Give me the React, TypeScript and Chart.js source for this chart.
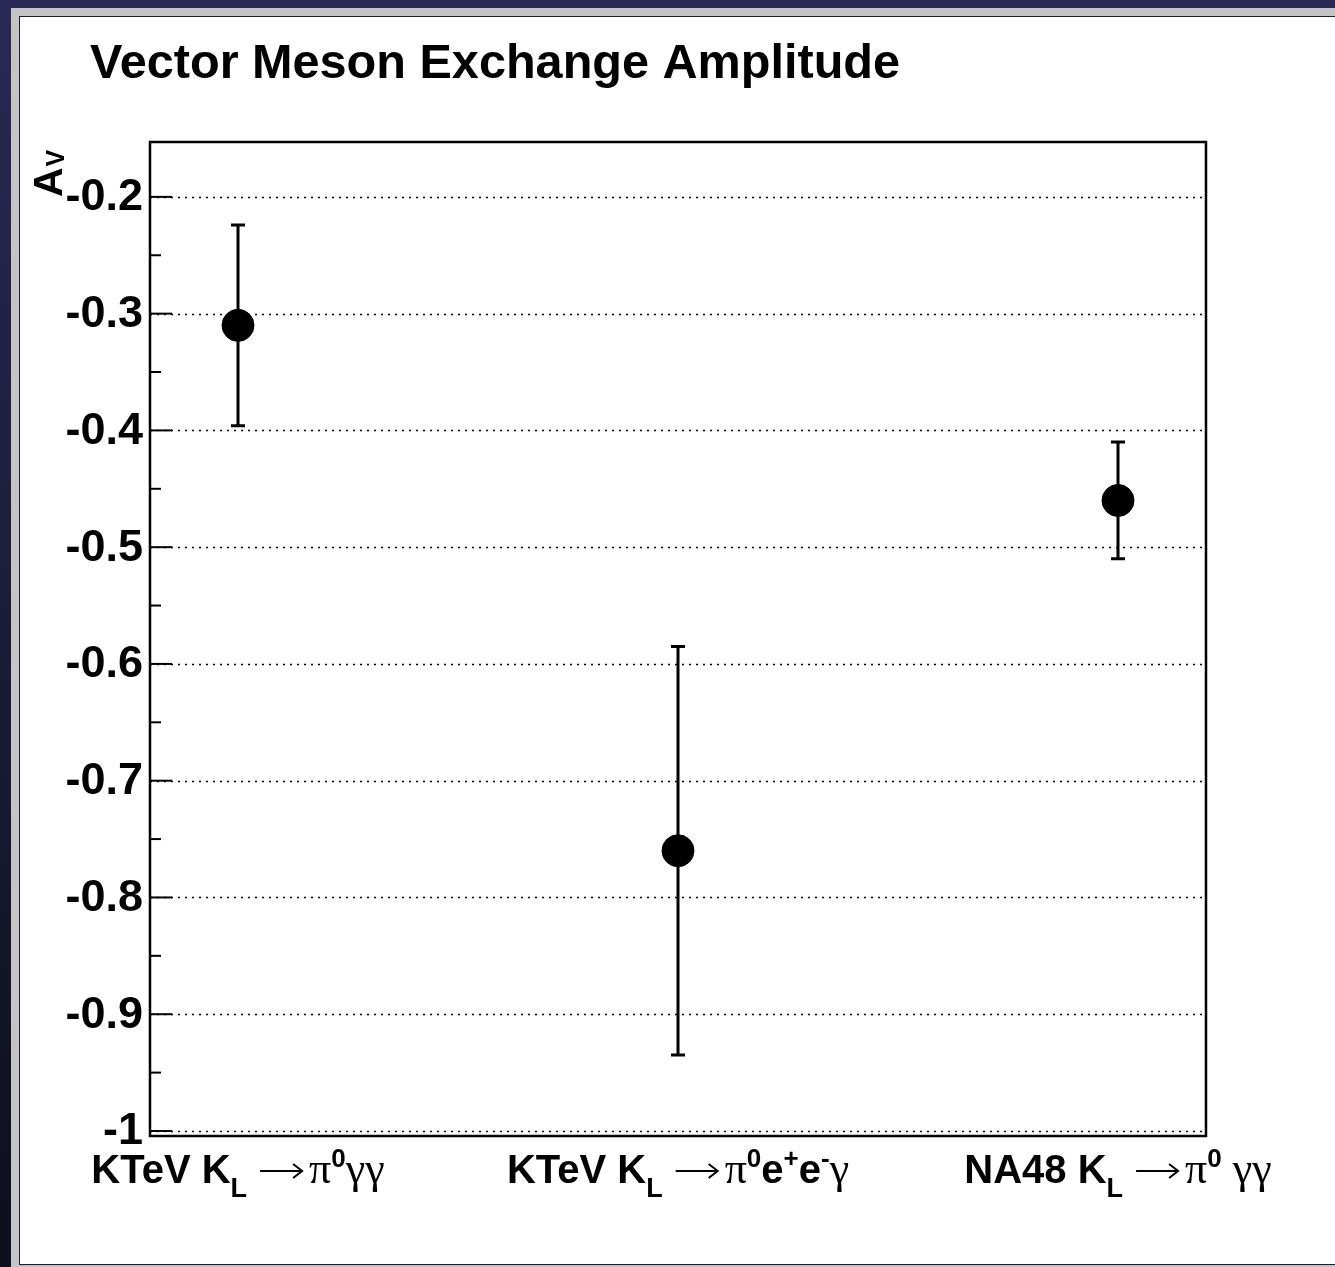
import React, { useEffect, useRef } from "react";
import { Chart, registerables } from "chart.js";
Chart.register(...registerables);

const chartTitle = "Vector Meson Exchange Amplitude";
const xPositions = [1, 2, 3];
const avValues = [-0.31, -0.76, -0.46];
const avErrors = [0.086, 0.175, 0.05];
const yTickValues = [-1, -0.9, -0.8, -0.7, -0.6, -0.5, -0.4, -0.3, -0.2];
const yTickLabels = ["-1", "-0.9", "-0.8", "-0.7", "-0.6", "-0.5", "-0.4", "-0.3", "-0.2"];
const yMinorTicks = [-0.95, -0.85, -0.75, -0.65, -0.55, -0.45, -0.35, -0.25];
const yRange = [-1.0043, -0.153];
const xRange = [0.8, 3.2];

type Seg = { t: string; k: "b" | "sub" | "sup" | "sym" | "arrow" };
const categoryLabels: Seg[][] = [
  [
    { t: "KTeV K", k: "b" }, { t: "L", k: "sub" }, { t: "\u2192", k: "arrow" },
    { t: "\u03c0", k: "sym" }, { t: "0", k: "sup" }, { t: "\u03b3\u03b3", k: "sym" },
  ],
  [
    { t: "KTeV K", k: "b" }, { t: "L", k: "sub" }, { t: "\u2192", k: "arrow" },
    { t: "\u03c0", k: "sym" }, { t: "0", k: "sup" }, { t: "e", k: "b" }, { t: "+", k: "sup" },
    { t: "e", k: "b" }, { t: "-", k: "sup" }, { t: "\u03b3", k: "sym" },
  ],
  [
    { t: "NA48 K", k: "b" }, { t: "L", k: "sub" }, { t: "\u2192", k: "arrow" },
    { t: "\u03c0", k: "sym" }, { t: "0", k: "sup" }, { t: " \u03b3\u03b3", k: "sym" },
  ],
];

const SANS = "'Liberation Sans', Arial, Helvetica, sans-serif";
const SERIF = "'Liberation Serif', 'Times New Roman', serif";
const segFont: Record<string, string> = {
  b: `bold 40px ${SANS}`,
  sub: `bold 27px ${SANS}`,
  sup: `bold 26px ${SANS}`,
  sym: `44px ${SERIF}`,
  arrow: `44px ${SERIF}`,
};
const segDy: Record<string, number> = { b: 0, sub: 14, sup: -16, sym: 0, arrow: 0 };
const ARROW_W = 42;
const ARROW_GAP_L = 13;
const ARROW_GAP_R = 7;

const decorPlugin = {
  id: "decor",
  beforeDatasetsDraw(chart: any) {
    const ctx = chart.ctx;
    const { left, right } = chart.chartArea;
    const ys = chart.scales.y;
    const xs = chart.scales.x;
    ctx.save();
    // dotted grid
    ctx.strokeStyle = "#000";
    ctx.lineWidth = 1.5;
    ctx.setLineDash([2, 5]);
    yTickValues.forEach((v) => {
      const y = Math.round(ys.getPixelForValue(v)) + 0.5;
      ctx.beginPath();
      ctx.moveTo(left, y);
      ctx.lineTo(right, y);
      ctx.stroke();
    });
    ctx.setLineDash([]);
    // error bars
    ctx.lineWidth = 3;
    avValues.forEach((v, i) => {
      const x = xs.getPixelForValue(xPositions[i]);
      const y1 = ys.getPixelForValue(v + avErrors[i]);
      const y2 = ys.getPixelForValue(v - avErrors[i]);
      ctx.beginPath();
      ctx.moveTo(x, y1);
      ctx.lineTo(x, y2);
      ctx.moveTo(x - 7, y1);
      ctx.lineTo(x + 7, y1);
      ctx.moveTo(x - 7, y2);
      ctx.lineTo(x + 7, y2);
      ctx.stroke();
    });
    ctx.restore();
  },
  afterDraw(chart: any) {
    const ctx = chart.ctx;
    const { left, right, top, bottom } = chart.chartArea;
    const ys = chart.scales.y;
    const xs = chart.scales.x;
    ctx.save();
    // frame
    ctx.strokeStyle = "#000";
    ctx.lineWidth = 2.5;
    ctx.strokeRect(left, top, right - left, bottom - top);
    // ticks
    ctx.lineWidth = 2;
    yTickValues.forEach((v) => {
      const y = ys.getPixelForValue(v);
      ctx.beginPath();
      ctx.moveTo(left, y);
      ctx.lineTo(left + 22, y);
      ctx.stroke();
    });
    yMinorTicks.forEach((v) => {
      const y = ys.getPixelForValue(v);
      ctx.beginPath();
      ctx.moveTo(left, y);
      ctx.lineTo(left + 11, y);
      ctx.stroke();
    });
    // tick labels
    ctx.fillStyle = "#000";
    ctx.font = `bold 45px ${SANS}`;
    ctx.textAlign = "right";
    ctx.textBaseline = "middle";
    yTickValues.forEach((v, i) => {
      ctx.fillText(yTickLabels[i], left - 7, ys.getPixelForValue(v) + 1);
    });
    // title
    ctx.textAlign = "left";
    ctx.textBaseline = "alphabetic";
    ctx.font = `bold 48.6px ${SANS}`;
    ctx.fillText(chartTitle, 90, 78);
    // y axis title A_V
    ctx.save();
    ctx.translate(62, 197);
    ctx.rotate(-Math.PI / 2);
    ctx.font = `bold 41px ${SANS}`;
    ctx.fillText("A", 0, 0);
    const aw = ctx.measureText("A").width;
    ctx.font = `bold 25px ${SANS}`;
    ctx.fillText("V", aw + 1, 2);
    ctx.restore();
    // category labels
    const segWidth = (s: Seg) => {
      if (s.k === "arrow") return ARROW_GAP_L + ARROW_W + ARROW_GAP_R;
      ctx.font = segFont[s.k];
      return ctx.measureText(s.t).width;
    };
    ctx.lineWidth = 2;
    categoryLabels.forEach((segs, i) => {
      let total = 0;
      segs.forEach((s) => { total += segWidth(s); });
      let x = xs.getPixelForValue(xPositions[i]) - total / 2;
      const base = 1183;
      segs.forEach((s) => {
        ctx.font = segFont[s.k];
        if (s.k === "arrow") {
          const ay = base - 12;
          const ax0 = x + ARROW_GAP_L;
          const ax1 = ax0 + ARROW_W;
          ctx.beginPath();
          ctx.moveTo(ax0, ay);
          ctx.lineTo(ax1, ay);
          ctx.moveTo(ax1 - 9, ay - 7);
          ctx.lineTo(ax1, ay);
          ctx.lineTo(ax1 - 9, ay + 7);
          ctx.stroke();
        } else {
          ctx.fillText(s.t, x, base + segDy[s.k]);
        }
        x += segWidth(s);
      });
    });
    ctx.restore();
  },
};

export default function App() {
  const ref = useRef<HTMLCanvasElement>(null);
  useEffect(() => {
    if (!ref.current) return;
    const chart = new Chart(ref.current, {
      type: "scatter",
      data: {
        datasets: [
          {
            label: "A_V",
            data: xPositions.map((x, i) => ({ x, y: avValues[i] })),
            backgroundColor: "#000",
            borderColor: "#000",
            pointRadius: 16,
            pointHoverRadius: 16,
          },
        ],
      },
      options: {
        responsive: false,
        animation: false,
        devicePixelRatio: 1,
        layout: { padding: { left: 150, right: 129, top: 142, bottom: 131 } },
        plugins: { legend: { display: false }, tooltip: { enabled: false }, title: { display: false } },
        scales: {
          x: { type: "linear", min: xRange[0], max: xRange[1], display: false },
          y: { type: "linear", min: yRange[0], max: yRange[1], display: false },
        },
      },
      plugins: [decorPlugin],
    });
    return () => chart.destroy();
  }, []);

  return (
    <div style={{ position: "absolute", left: 0, top: 0, width: 1335, height: 1267, overflow: "hidden",
      background: "linear-gradient(to bottom, #2a2953, #0e0e1c)" }}>
      <div style={{ position: "absolute", left: 11, top: 8, right: -20, bottom: -10, background: "#c4c4c4" }} />
      <div style={{ position: "absolute", left: 19, top: 16, right: -10, bottom: 2, background: "#fff",
        border: "1px solid #1a1a3c", boxSizing: "border-box" }} />
      <canvas ref={ref} width={1335} height={1267}
        style={{ position: "absolute", left: 0, top: 0, width: 1335, height: 1267 }} />
    </div>
  );
}
